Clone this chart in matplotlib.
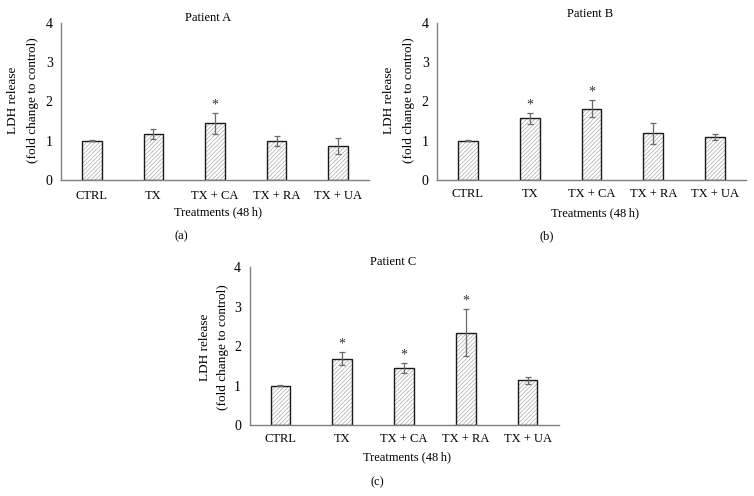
import matplotlib
matplotlib.use("Agg")
import matplotlib.pyplot as plt
import numpy as np

plt.rcParams['font.family'] = ['Liberation Serif', 'DejaVu Serif']
plt.rcParams['hatch.linewidth'] = 0.5

categories = ["CTRL", "TX", "TX + CA", "TX + RA", "TX + UA"]
yticks = [0, 1, 2, 3, 4]

a_vals = [1.00, 1.16, 1.44, 1.00, 0.87]
a_errs = [0.01, 0.13, 0.27, 0.13, 0.20]
a_sig = [False, False, True, False, False]

b_vals = [1.00, 1.57, 1.81, 1.19, 1.09]
b_errs = [0.02, 0.14, 0.22, 0.27, 0.08]
b_sig = [False, True, True, False, False]

c_vals = [1.00, 1.68, 1.44, 2.34, 1.13]
c_errs = [0.02, 0.17, 0.13, 0.60, 0.10]
c_sig = [False, True, True, True, False]

W, H = 754, 496
fig = plt.figure(figsize=(W / 100, H / 100), dpi=100)

def fx(px):
    return px / W

def fy(py):
    return 1 - py / H

FS = 9
spine_c = '#7f7f7f'

def panel(left, right, y0, y4, vals, errs, sig, title, title_xy, ylab_x, ylab_y, tick_y, xlab_xy, letter, letter_xy):
    ax = fig.add_axes([fx(left), fy(y0), (right - left) / W, (y0 - y4) / H])
    x = np.arange(len(categories))
    ax.bar(x, vals, width=0.32, color='white', edgecolor='#a8a8a8', hatch='////////', linewidth=0)
    ax.bar(x, vals, width=0.32, color='none', edgecolor='#1a1a1a', linewidth=1.0)
    ax.errorbar(x, vals, yerr=errs, fmt='none', ecolor='#6a6a6a', elinewidth=0.9, capsize=2.5, capthick=0.9)
    for xi, v, e, s in zip(x, vals, errs, sig):
        if s:
            ax.text(xi, v + e + 0.03, '*', ha='center', va='bottom', fontsize=FS + 1, color='#333333')
    ax.set_xlim(-0.5, len(categories) - 0.5)
    ax.set_ylim(0, 4)
    ax.set_yticks(yticks)
    ax.set_yticklabels([str(t) for t in yticks], fontsize=FS + 1)
    ax.set_xticks(x)
    ax.set_xticklabels(categories, fontsize=FS)
    ax.tick_params(length=0)
    ax.tick_params(axis='y', pad=6)
    ax.tick_params(axis='x', pad=(tick_y - y0) - 6)
    for s in ['top', 'right']:
        ax.spines[s].set_visible(False)
    for s in ['left', 'bottom']:
        ax.spines[s].set_color(spine_c)
        ax.spines[s].set_linewidth(1.0)
    fig.text(fx(title_xy[0]), fy(title_xy[1]), title, ha='center', va='center', fontsize=FS)
    fig.text(fx(ylab_x[0]), fy(ylab_y), 'LDH release', ha='center', va='center', rotation=90, fontsize=FS + 0.5)
    fig.text(fx(ylab_x[1]), fy(ylab_y), '(fold change to control)', ha='center', va='center', rotation=90, fontsize=FS + 0.5)
    fig.text(fx(xlab_xy[0]), fy(xlab_xy[1]), 'Treatments (48\u2009h)', ha='center', va='center', fontsize=FS)
    fig.text(fx(letter_xy[0]), fy(letter_xy[1]), letter, ha='center', va='center', fontsize=FS)
    return ax

panel(61, 369, 180, 22.7, a_vals, a_errs, a_sig, 'Patient A', (208, 18), (13, 33), 100, 193, (218, 212), '(a)', (181, 236))
panel(437, 746, 180, 22.7, b_vals, b_errs, b_sig, 'Patient B', (590, 14), (389, 409), 100, 192, (595, 213), '(b)', (547, 236))
panel(249.5, 558.5, 425, 267.3, c_vals, c_errs, c_sig, 'Patient C', (393, 262), (205, 223), 347, 437, (407, 457), '(c)', (377, 482))

fig.savefig('out.png', dpi=100)
